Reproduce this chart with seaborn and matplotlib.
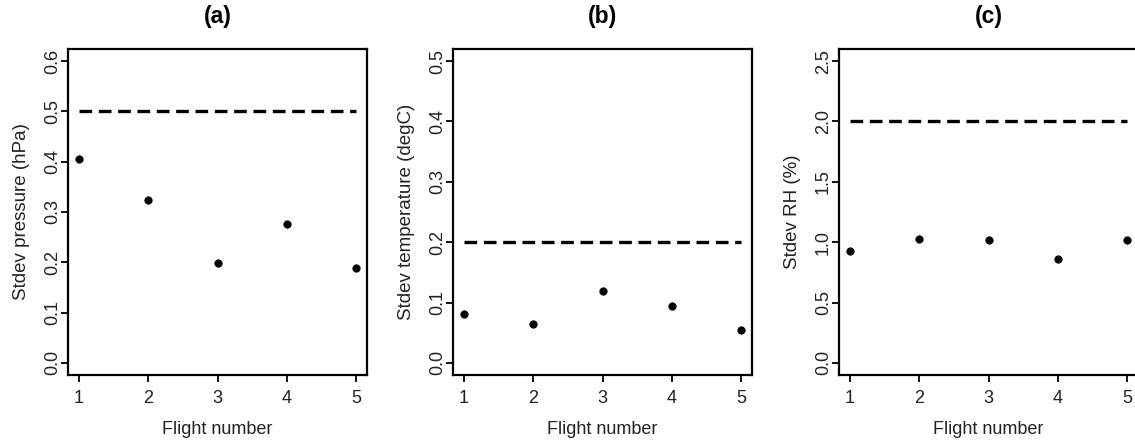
import numpy as np
import pandas as pd
import seaborn as sns
import matplotlib.pyplot as plt

flights = [1, 2, 3, 4, 5]
stdev_pressure = [0.406, 0.324, 0.198, 0.276, 0.188]
stdev_temperature = [0.081, 0.065, 0.119, 0.095, 0.055]
stdev_rh = [0.925, 1.024, 1.016, 0.864, 1.016]

limits = [0.5, 0.2, 2.0]
titles = ["(a)", "(b)", "(c)"]
ylabels = ["Stdev pressure (hPa)", "Stdev temperature (degC)", "Stdev RH (%)"]
yticks = [
    [0.0, 0.1, 0.2, 0.3, 0.4, 0.5, 0.6],
    [0.0, 0.1, 0.2, 0.3, 0.4, 0.5],
    [0.0, 0.5, 1.0, 1.5, 2.0, 2.5],
]


def r_range(lo, hi):
    # R-style 4% axis extension
    pad = (hi - lo) * 0.04
    return lo - pad, hi + pad


def draw_panel(ax, values, limit, title, ylabel, ticks):
    df = pd.DataFrame({"flight": flights, "stdev": values})
    sns.scatterplot(data=df, x="flight", y="stdev", ax=ax, color="black",
                    s=28, edgecolor="black", linewidth=0.6, zorder=3)
    ref = pd.DataFrame({"flight": [flights[0], flights[-1]], "stdev": [limit, limit]})
    sns.lineplot(data=ref, x="flight", y="stdev", ax=ax, color="black",
                 linewidth=2.4, dashes=False)
    ax.lines[-1].set_dashes([3.8, 2.0])

    ax.set_xlim(*r_range(flights[0], flights[-1]))
    ax.set_ylim(*r_range(ticks[0], ticks[-1]))
    ax.set_xticks(flights)
    ax.set_xticklabels([str(f) for f in flights])
    ax.set_yticks(ticks)
    ax.set_yticklabels([f"{t:.1f}" for t in ticks], rotation=90, va="center")
    ax.tick_params(axis="both", length=5, width=1.3, labelsize=13,
                   colors="black", labelcolor="#222222")
    ax.tick_params(axis="x", pad=6)
    ax.tick_params(axis="y", pad=0)
    for sp in ax.spines.values():
        sp.set_visible(True)
        sp.set_linewidth(1.6)
        sp.set_color("black")
    ax.set_xlabel("Flight number", fontsize=13, color="#222222", labelpad=10)
    ax.set_ylabel(ylabel, fontsize=13.5, color="#222222", labelpad=10)
    ax.set_title(title, fontsize=16.5, fontweight="bold", pad=19, color="black")


sns.set_style("ticks")
plt.rcParams["font.family"] = ["Liberation Sans", "DejaVu Sans"]

fig = plt.figure(figsize=(11.35, 4.41), dpi=100)
W, H = 1135.0, 441.0
lefts = [68, 453, 839]
series = [stdev_pressure, stdev_temperature, stdev_rh]
for i in range(3):
    ax = fig.add_axes([lefts[i] / W, 1 - 375 / H, 299 / W, (375 - 49) / H])
    draw_panel(ax, series[i], limits[i], titles[i], ylabels[i], yticks[i])

fig.savefig("out.png", dpi=100)
